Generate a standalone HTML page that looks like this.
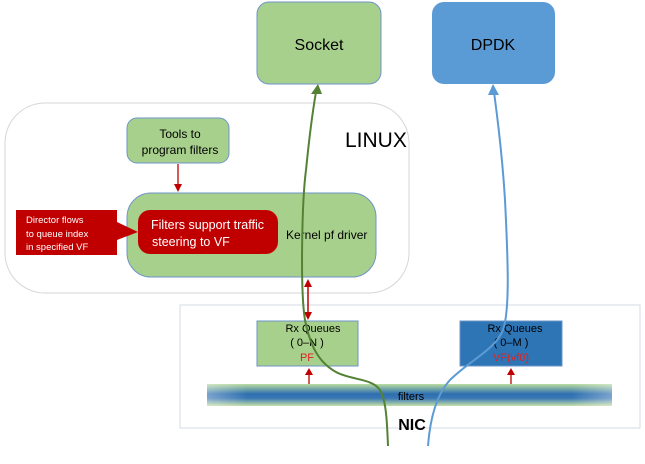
<!DOCTYPE html>
<html><head><meta charset="utf-8"><style>
body{margin:0;background:#fff;}
svg{display:block;font-family:"Liberation Sans","Noto Sans CJK SC",sans-serif;}
</style></head><body>
<svg width="645" height="464" viewBox="0 0 645 464" xmlns="http://www.w3.org/2000/svg">
<defs>
<linearGradient id="fg" x1="0" y1="0" x2="0" y2="1">
<stop offset="0" stop-color="#b9dca0"/>
<stop offset="0.45" stop-color="#2e6fb0"/>
<stop offset="0.65" stop-color="#3a78b5"/>
<stop offset="1" stop-color="#c6e0a6"/>
</linearGradient>
<linearGradient id="fgx" x1="0" y1="0" x2="1" y2="0">
<stop offset="0" stop-color="#fff" stop-opacity="0.35"/>
<stop offset="0.1" stop-color="#fff" stop-opacity="0"/>
<stop offset="0.9" stop-color="#fff" stop-opacity="0"/>
<stop offset="1" stop-color="#fff" stop-opacity="0.35"/>
</linearGradient>
</defs>
<!-- Linux container -->
<rect x="5" y="103" width="404" height="190" rx="40" fill="#fff" stroke="#d6d6d6"/>
<text x="345" y="147" font-size="21">LINUX</text>
<!-- NIC container -->
<rect x="180" y="305" width="460" height="123" fill="#fff" stroke="#d3dbe3"/>
<!-- Socket / DPDK -->
<rect x="257" y="2" width="124" height="82" rx="12" fill="#a8d08d" stroke="#6d95c8"/>
<text x="319" y="50" font-size="16" text-anchor="middle">Socket</text>
<rect x="432" y="2" width="123" height="82" rx="12" fill="#5b9bd5"/>
<text x="493" y="50" font-size="16" text-anchor="middle">DPDK</text>
<!-- Tools -->
<rect x="127" y="118" width="102" height="45" rx="10" fill="#a8d08d" stroke="#6d95c8"/>
<text x="180" y="138" font-size="12" text-anchor="middle">Tools to</text>
<text x="180" y="154" font-size="12" text-anchor="middle">program filters</text>
<line x1="178" y1="164" x2="178" y2="186" stroke="#c00000" stroke-width="1.3"/>
<polygon points="174,184 182,184 178,192" fill="#c00000"/>
<!-- Kernel -->
<rect x="127" y="193" width="249" height="84" rx="24" fill="#a8d08d" stroke="#6d95c8"/>
<text x="286" y="239" font-size="12">Kernel pf driver</text>
<rect x="138" y="210" width="140" height="44" rx="12" fill="#c00000"/>
<text x="151" y="229" font-size="12.5" fill="#fff">Filters support traffic</text>
<text x="152" y="246" font-size="12.5" fill="#fff">steering to VF</text>
<!-- Director callout -->
<polygon points="16,210 117,210 117,222 138,232 117,240 117,255 16,255" fill="#c00000"/>
<text x="26" y="223" font-size="9.5" fill="#fff">Director flows</text>
<text x="26" y="237" font-size="9.5" fill="#fff">to queue index</text>
<text x="26" y="250" font-size="9.5" fill="#fff">in specified VF</text>
<!-- Rx queues -->
<rect x="257" y="321" width="101" height="45" fill="#a8d08d" stroke="#6d95c8"/>
<text x="313" y="332" font-size="11" text-anchor="middle">Rx Queues</text>
<text x="307" y="346" font-size="11" text-anchor="middle">( 0–N )</text>
<text x="307" y="361" font-size="11" text-anchor="middle" fill="#e02020">PF</text>
<rect x="460" y="321" width="102" height="45" fill="#2e75b6" stroke="#6d95c8"/>
<text x="515" y="332" font-size="11" text-anchor="middle">Rx Queues</text>
<text x="511" y="346" font-size="11" text-anchor="middle">( 0–M )</text>
<text x="511" y="361" font-size="11" text-anchor="middle" fill="#e02020">VF(vf0)</text>
<!-- filters bar -->
<rect x="207" y="384" width="405" height="22" fill="url(#fg)"/>
<rect x="207" y="384" width="405" height="22" fill="url(#fgx)"/>
<text x="411" y="400" font-size="11" text-anchor="middle">filters</text>
<text x="412" y="430" font-size="16" font-weight="bold" text-anchor="middle">NIC</text>
<!-- small red arrows -->
<line x1="309" y1="384" x2="309" y2="374" stroke="#c00000" stroke-width="1.3"/>
<polygon points="305,375 313,375 309,368" fill="#c00000"/>
<line x1="511" y1="384" x2="511" y2="374" stroke="#c00000" stroke-width="1.3"/>
<polygon points="507,375 515,375 511,368" fill="#c00000"/>
<!-- double red arrow -->
<line x1="308" y1="285" x2="308" y2="314" stroke="#c00000" stroke-width="1.5"/>
<polygon points="304,287 312,287 308,279" fill="#c00000"/>
<polygon points="304,312 312,312 308,320" fill="#c00000"/>
<!-- green path -->
<path d="M388,446 C387,420 386,400 380,390 C372,378 350,380 336,372 C318,362 310,345 305,320 C300,290 302,200 306,170 C309,140 312,115 316,92" fill="none" stroke="#548235" stroke-width="2"/>
<polygon points="311,94 322,94 318,84" fill="#548235"/>
<!-- blue path -->
<path d="M428,446 C430,420 436,395 450,380 C470,360 495,350 503,330 C510,310 508,260 505,200 C502,150 497,115 494,92" fill="none" stroke="#5b9bd5" stroke-width="2"/>
<polygon points="488,95 499,95 493,84" fill="#5b9bd5"/>
</svg>
</body></html>
